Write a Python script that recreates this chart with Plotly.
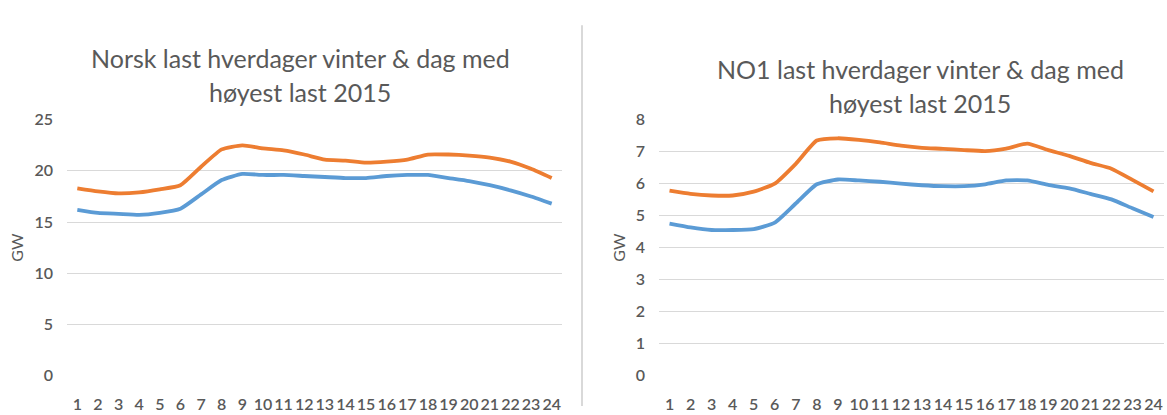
import plotly.graph_objects as go

# Hours of the day (x categories)
hours = list(range(1, 25))

# Norway total load (GW): winter weekday average and the peak-load day 2015
norsk_hverdager = [16.2, 15.9, 15.8, 15.7, 15.9, 16.3, 17.7, 19.1, 19.7, 19.6, 19.6, 19.5,
                   19.4, 19.3, 19.3, 19.5, 19.6, 19.6, 19.3, 19.0, 18.6, 18.1, 17.5, 16.8]
norsk_maksdag = [18.3, 18.0, 17.8, 17.9, 18.2, 18.6, 20.4, 22.1, 22.5, 22.2, 22.0, 21.6,
                 21.1, 21.0, 20.8, 20.9, 21.1, 21.6, 21.6, 21.5, 21.3, 20.9, 20.2, 19.3]

# NO1 load (GW)
no1_hverdager = [4.75, 4.63, 4.55, 4.55, 4.58, 4.78, 5.38, 5.98, 6.13, 6.10, 6.06, 6.00,
                 5.95, 5.92, 5.92, 5.98, 6.10, 6.10, 5.96, 5.85, 5.68, 5.51, 5.23, 4.96]
no1_maksdag = [5.78, 5.68, 5.63, 5.63, 5.75, 6.00, 6.62, 7.35, 7.42, 7.37, 7.29, 7.19,
               7.12, 7.09, 7.05, 7.02, 7.10, 7.25, 7.05, 6.87, 6.65, 6.47, 6.12, 5.76]

left_title = ["Norsk last hverdager vinter & dag med", "høyest last 2015"]
right_title = ["NO1 last hverdager vinter & dag med", "høyest last 2015"]

BLUE = "#5B9BD5"
ORANGE = "#ED7D31"
TEXT = "#595959"
GRID = "#D9D9D9"
FONT = "Lato"

W, H = 1167, 415

fig = go.Figure()

for xa, ya, s1, s2 in [("x", "y", norsk_hverdager, norsk_maksdag),
                       ("x2", "y2", no1_hverdager, no1_maksdag)]:
    fig.add_trace(go.Scatter(x=hours, y=s1, mode="lines", xaxis=xa, yaxis=ya,
                             line=dict(color=BLUE, width=3.8, shape="spline", smoothing=0.5),
                             showlegend=False))
    fig.add_trace(go.Scatter(x=hours, y=s2, mode="lines", xaxis=xa, yaxis=ya,
                             line=dict(color=ORANGE, width=3.8, shape="spline", smoothing=0.5),
                             showlegend=False))

ydom = [(H - 383) / H, (H - 115) / H]

xcommon = dict(range=[0.5, 24.5], tickmode="array", tickvals=hours,
               ticktext=[str(h) for h in hours], showgrid=False, zeroline=False,
               showline=False, ticks="", ticklabelstandoff=18,
               tickfont=dict(family=FONT, size=16, color=TEXT, weight=600),
               fixedrange=True)
ycommon = dict(showgrid=True, gridcolor=GRID, gridwidth=1, zeroline=False,
               showline=False, ticks="", ticklabelstandoff=13,
               tickfont=dict(family=FONT, size=16, color=TEXT, weight=600),
               domain=ydom,
               title=dict(text="GW", font=dict(family=FONT, size=16, color=TEXT), standoff=6))

fig.update_layout(
    width=W, height=H,
    margin=dict(l=0, r=0, t=0, b=0),
    paper_bgcolor="white", plot_bgcolor="white",
    xaxis=dict(domain=[67 / W, 562 / W], anchor="y", **xcommon),
    yaxis=dict(anchor="x", range=[0, 25], tickvals=[0, 5, 10, 15, 20, 25], **ycommon),
    xaxis2=dict(domain=[659 / W, 1164 / W], anchor="y2", **xcommon),
    yaxis2=dict(anchor="x2", range=[0, 8], tickvals=list(range(0, 9)), **ycommon),
)

# Chart titles, two lines each
for (cx, lines, y1, y2) in [(300, left_title, 50, 86), (920, right_title, 62, 97)]:
    for txt, yy in zip(lines, (y1, y2)):
        fig.add_annotation(text=txt, x=cx / W, y=1 - yy / H, xref="paper", yref="paper",
                           xanchor="center", yanchor="middle", showarrow=False,
                           font=dict(family=FONT, size=25, color=TEXT))

# Separator between the two charts
fig.add_shape(type="line", xref="paper", yref="paper",
              x0=582 / W, x1=582 / W, y0=0, y1=1 - 16 / H,
              line=dict(color=GRID, width=2))

fig.write_html("out.html")
